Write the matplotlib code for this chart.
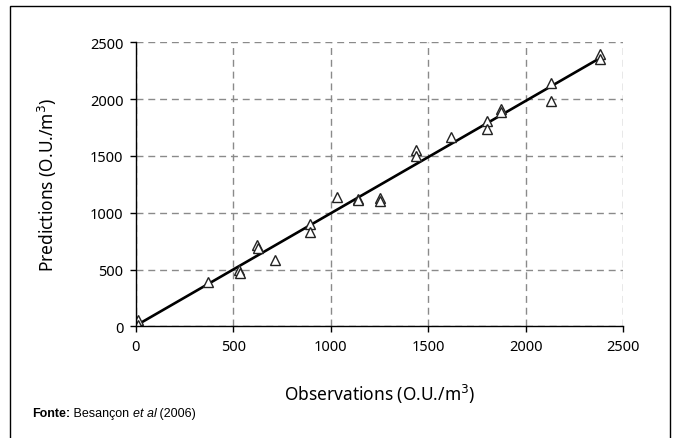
import matplotlib
matplotlib.use('agg')

import numpy as np
import matplotlib.pyplot as plt
from matplotlib.patches import Rectangle

# observed vs predicted odour concentration (O.U./m3)
observations = [10, 10, 370, 530, 535, 620, 625, 715, 895, 895, 1030, 1140, 1140,
                1250, 1250, 1435, 1435, 1615, 1800, 1800, 1875, 1875, 2130, 2130,
                2380, 2380]
predictions = [60, 15, 390, 500, 470, 715, 685, 585, 900, 830, 1140, 1120, 1110,
               1130, 1105, 1550, 1495, 1670, 1805, 1735, 1910, 1885, 2140, 1985,
               2400, 2355]
ticks = [0, 500, 1000, 1500, 2000, 2500]

fig = plt.figure(figsize=(6.73, 4.39), dpi=100)
ax = fig.add_axes([0.2018, 0.2544, 0.7244, 0.647])

obs = np.array(observations)
pred = np.array(predictions)
slope, icpt = np.polyfit(obs, pred, 1)
xl = np.array([0, obs.max()])
ax.plot(xl, slope * xl + icpt, color='black', lw=1.9, zorder=3)

ax.plot(obs, pred, linestyle='none', marker='^', ms=6.5, mfc='white',
        mec='#222222', mew=1.0, zorder=4)

ax.set_xlim(0, 2500)
ax.set_ylim(0, 2500)
ax.set_xticks(ticks)
ax.set_yticks(ticks)
ax.grid(True, color='#8a8a8a', linestyle=(0, (5, 3.5)), lw=1.0)
ax.set_axisbelow(True)

for s in ['top', 'right']:
  ax.spines[s].set_visible(False)
for s in ['left', 'bottom']:
  ax.spines[s].set_linewidth(1.0)
  ax.spines[s].set_zorder(5)

ax.tick_params(direction='out', length=4, width=1, labelsize=10.5, pad=5)
for lbl in ax.get_xticklabels() + ax.get_yticklabels():
  lbl.set_family('Noto Sans')

ax.set_ylabel('Predictions (O.U./m$^3$)', fontsize=12.5, family='Noto Sans', labelpad=22)
ax.set_xlabel('Observations (O.U./m$^3$)', fontsize=12.5, family='Noto Sans', labelpad=20)

# source line, pieces chained one after another
prev = fig.text(32 / 673, 1 - 417 / 439, 'Fonte:', fontsize=9, fontweight='bold',
                family='Liberation Sans', va='baseline')
for piece, st in [(' Besançon ', 'normal'), ('et al', 'italic'), (' (2006)', 'normal')]:
  prev = plt.annotate(piece, xy=(1, 0), xycoords=prev, va='bottom', ha='left',
                      fontsize=9, style=st, family='Liberation Sans',
                      annotation_clip=False)

fig.patches.append(Rectangle((10 / 673, -0.1), 660 / 673, 0.1 + 432 / 439,
                             transform=fig.transFigure, fill=False,
                             edgecolor='black', lw=1.0))

plt.savefig('out.png', dpi=100)
